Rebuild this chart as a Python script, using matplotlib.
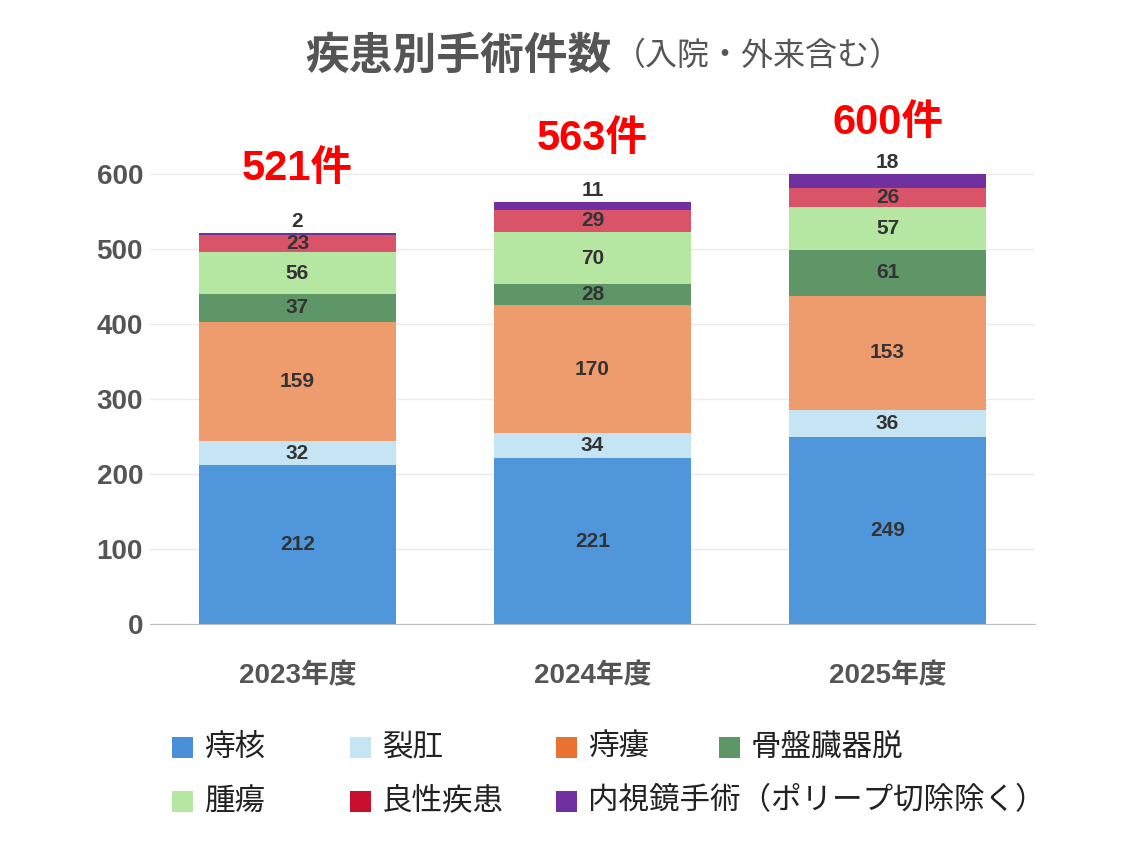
import matplotlib
matplotlib.use("Agg")
import matplotlib.pyplot as plt
import numpy as np
from matplotlib.patches import Rectangle

plt.rcParams['font.family'] = ['Noto Sans CJK JP', 'DejaVu Sans']
NUM = ['Liberation Sans', 'Noto Sans CJK JP']

years = ["2023年度", "2024年度", "2025年度"]
series_names = ["痔核", "裂肛", "痔瘻", "骨盤臓器脱", "腫瘍", "良性疾患", "内視鏡手術（ポリープ切除除く）"]
jikaku = [212, 221, 249]
reko = [32, 34, 36]
jiro = [159, 170, 153]
kotsuban = [37, 28, 61]
shuyo = [56, 70, 57]
ryosei = [23, 29, 26]
naishikyo = [2, 11, 18]
totals = [521, 563, 600]

series = [jikaku, reko, jiro, kotsuban, shuyo, ryosei, naishikyo]
bar_colors = ["#4F96DB", "#C5E5F5", "#EE9B6D", "#5E9667", "#B5E6A2", "#D95468", "#7030A0"]
legend_colors = ["#4A90D9", "#C5E5F5", "#E97132", "#5E9667", "#B5E6A2", "#C8102E", "#7030A0"]

W, H = 1138, 855
fig = plt.figure(figsize=(W / 100, H / 100), dpi=100)
ax = fig.add_axes([150 / W, 1 - 624 / H, 885 / W, 487.5 / H])

x = np.arange(len(years))
bottom = np.zeros(len(years))
for i, (vals, col) in enumerate(zip(series, bar_colors)):
    vals = np.array(vals, dtype=float)
    ax.bar(x, vals, width=0.67, bottom=bottom, color=col, zorder=3)
    for j in range(len(years)):
        if i == len(series) - 1:
            ax.text(x[j], bottom[j] + vals[j] + 3, f"{int(vals[j])}", ha="center", va="bottom",
                    fontsize=15, fontweight="bold", color="#333333", zorder=4, family=NUM)
        else:
            ax.text(x[j], bottom[j] + vals[j] / 2, f"{int(vals[j])}", ha="center", va="center",
                    fontsize=15, fontweight="bold", color="#333333", zorder=4, family=NUM)
    bottom += vals

offsets = [86, 84, 68]
for j, t in enumerate(totals):
    ax.text(x[j], t + offsets[j], f"{t}件", ha="center", va="center", fontsize=30,
            fontweight="bold", color="#FF0000", family=NUM)

ax.set_xlim(-0.5, 2.5)
ax.set_ylim(0, 650)
ax.set_yticks([0, 100, 200, 300, 400, 500, 600])
ax.set_xticks(x)
ax.set_xticklabels(years, fontsize=20, fontweight="bold", color="#555555", family=NUM)
for lab in ax.get_yticklabels():
    lab.set_fontsize(20)
    lab.set_fontweight("bold")
    lab.set_color("#555555")
    lab.set_family(NUM)
ax.tick_params(axis="both", length=0)
ax.tick_params(axis="x", pad=28)
ax.tick_params(axis="y", pad=5)
ax.grid(axis="y", color="#EBEBEB", linewidth=1, zorder=0)
for s in ["top", "right", "left"]:
    ax.spines[s].set_visible(False)
ax.spines["bottom"].set_color("#BFBFBF")
ax.spines["bottom"].set_zorder(5)

fig.text(612 / W, 1 - 56 / H, "疾患別手術件数", ha="right", va="center", fontsize=31.5,
         fontweight="bold", color="#555555")
fig.text(614 / W, 1 - 56 / H, "（入院・外来含む）", ha="left", va="center", fontsize=23,
         color="#555555")

# manual legend
sq_x = [172, 350, 556, 719]
row_y = [747, 801]
sq = 21
for k, (name, col) in enumerate(zip(series_names, legend_colors)):
    r, c = divmod(k, 4)
    cx, cy = sq_x[c], row_y[r]
    fig.patches.append(Rectangle((cx / W, (H - cy - sq / 2) / H), sq / W, sq / H,
                                 transform=fig.transFigure, facecolor=col, edgecolor="none"))
    fig.text((cx + sq + 11) / W, 1 - cy / H, name, ha="left", va="center", fontsize=22,
             color="#222222")

fig.savefig("out.png", dpi=100, facecolor="white")
